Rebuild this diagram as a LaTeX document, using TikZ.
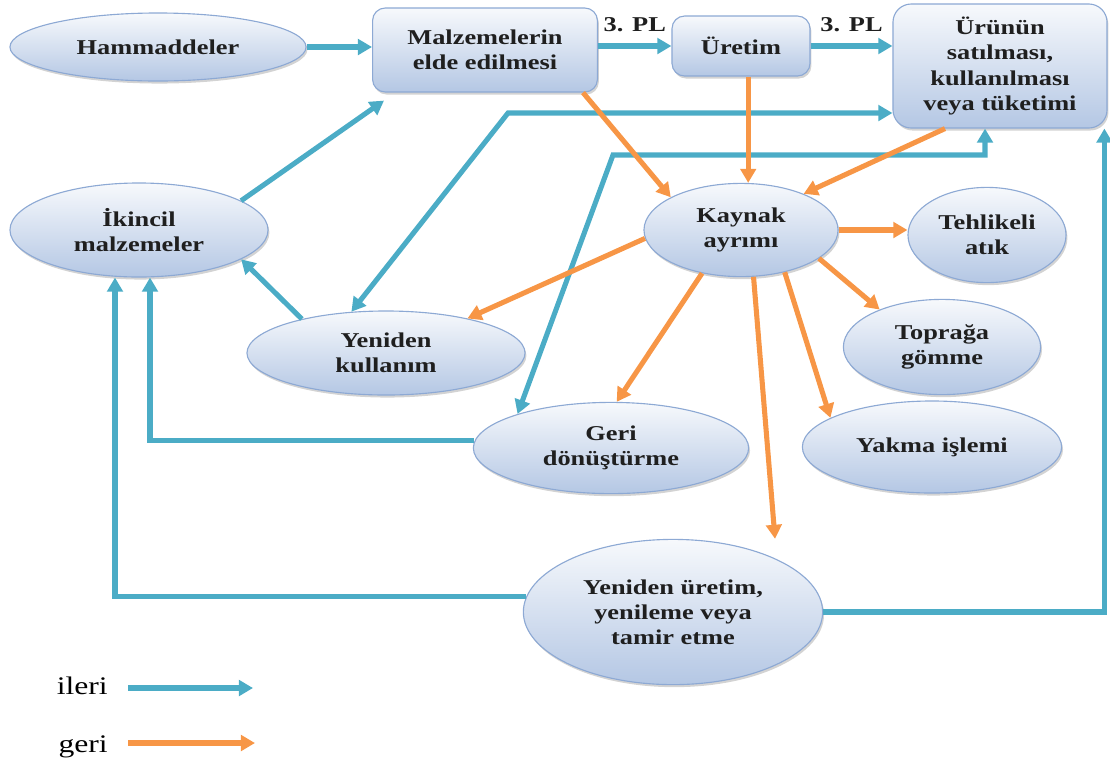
\documentclass[tikz,border=0pt]{standalone}
\usepackage{fontspec}
\setmainfont[FakeStretch=1.25]{Liberation Serif}
\usepackage{tikz}
\usetikzlibrary{shapes.geometric,arrows.meta,shadows,calc}
\definecolor{ileriMavi}{HTML}{4BACC6}
\definecolor{geriTuruncu}{HTML}{F79646}
\definecolor{kenarMavi}{HTML}{8DA9D4}
\definecolor{altMavi}{HTML}{B4C7E4}
\definecolor{ustBeyaz}{HTML}{F7F9FC}
\tikzset{ucu/.tip={Triangle[length=10pt,width=11pt]}}

\begin{document}
\begin{tikzpicture}[x=0.025cm, y=-0.025cm,
        yazi/.style={font=\fontsize{15}{17.8}\selectfont\bfseries, align=center, text=black!88},
        govde/.style={yazi, draw=kenarMavi, line width=0.8pt, top color=ustBeyaz, bottom color=altMavi, inner sep=0pt,
            drop shadow={shadow xshift=1pt, shadow yshift=-1.8pt, opacity=0.35}},
        elips/.style={govde, ellipse},
        kutu/.style={govde, rectangle, rounded corners=9pt},
        ileri/.style={ileriMavi, line width=3.6pt, -ucu},
        geri/.style={geriTuruncu, line width=3.6pt, -ucu},
        lejant/.style={font=\fontsize{18}{20}\selectfont, inner sep=0pt, anchor=base east}]
    \useasboundingbox (0,0) rectangle (1110,765);

    \node[elips, minimum width=7.4cm, minimum height=1.7cm] (ham) at (158,47) {Hammaddeler};
    \node[kutu, minimum width=5.62cm, minimum height=2.1cm] (malz) at (485,50) {Malzemelerin\\elde edilmesi};
    \node[kutu, minimum width=3.45cm, minimum height=1.5cm] (uret) at (741,46) {Üretim};
    \node[kutu, rounded corners=13pt, minimum width=5.35cm, minimum height=3.1cm] (urun) at (1000,66) {Ürünün\\satılması,\\kullanılması\\veya tüketimi};
    \node[elips, minimum width=6.45cm, minimum height=2.35cm] (ikincil) at (139,230) {İkincil\\malzemeler};
    \node[elips, minimum width=6.95cm, minimum height=2.1cm] (yenkul) at (386,353) {Yeniden\\kullanım};
    \node[elips, minimum width=4.85cm, minimum height=2.33cm] (kaynak) at (741,230) {Kaynak\\ayrımı};
    \node[elips, minimum width=3.95cm, minimum height=2.38cm] (tehlike) at (987,235) {Tehlikeli\\atık};
    \node[elips, minimum width=4.93cm, minimum height=2.38cm] (toprak) at (942,347) {Toprağa\\gömme};
    \node[elips, minimum width=6.88cm, minimum height=2.28cm] (geridon) at (611,448) {Geri\\dönüştürme};
    \node[elips, minimum width=6.48cm, minimum height=2.3cm] (yakma) at (932,447) {Yakma işlemi};
    \node[elips, minimum width=7.48cm, minimum height=3.63cm] (yenuret) at (673,612) {Yeniden üretim,\\yenileme veya\\tamir etme};

    \draw[ileri] (ham.east) -- (ham.east -| malz.west);
    \draw[ileri] (malz.east |- uret.west) -- node[yazi, midway, above=8pt, inner sep=0pt] (pl1) {3. PL} (uret.west);
    \draw[ileri] (uret.east) -- node[yazi, midway, above=8pt, inner sep=0pt] (pl2) {3. PL} (uret.east -| urun.west);
    \draw[ileri] (ikincil.16) -- ([xshift=0.3cm, yshift=-0.2cm]malz.south west);
    \draw[ileri] (yenkul.158) -- (ikincil.-16);
    \coordinate (k1) at (508,113);
    \draw[ileri, ucu-ucu] (yenkul.130) -- (k1) -- (k1 -| urun.west);
    \coordinate (k2) at (613,155);
    \coordinate (k3) at (985,155);
    \draw[ileri, ucu-ucu] (geridon.160) -- (k2) -- (k3) -- (k3 |- urun.south);
    \draw[ileri] (geridon.177) -| ([xshift=0.275cm]ikincil.south);
    \draw[ileri] (yenuret.174) -| ([xshift=-0.6cm]ikincil.south);
    \draw[ileri] (yenuret.east) -| ([xshift=-0.08cm]urun.south east);

    \draw[geri] ([xshift=-0.375cm]malz.south east) -- (kaynak.155);
    \draw[geri] ([xshift=0.18cm]uret.south) -- ([xshift=0.18cm]uret.south |- kaynak.north);
    \draw[geri] ([xshift=-1.375cm]urun.south) -- (kaynak.30);
    \draw[geri] (kaynak.east) -- (kaynak.east -| tehlike.west);
    \draw[geri] (kaynak.-20) -- (toprak.149);
    \draw[geri] (kaynak.-44) -- (yakma.164);
    \draw[geri] (kaynak.-75) -- ([xshift=2.55cm]yenuret.north);
    \draw[geri] (kaynak.228) -- (geridon.83);
    \draw[geri] (kaynak.185) -- (yenkul.23);

    \node[lejant] (lejileri) at (108,694) {ileri};
    \node[lejant] (lejgeri) at (108,752) {geri};
    \coordinate (ileriuc) at (253,688);
    \coordinate (geriuc) at (255,743);
    \draw[ileri] ([xshift=0.5cm]lejileri.east |- ileriuc) -- (ileriuc);
    \draw[geri] ([xshift=0.5cm]lejgeri.east |- geriuc) -- (geriuc);
\end{tikzpicture}
\end{document}
